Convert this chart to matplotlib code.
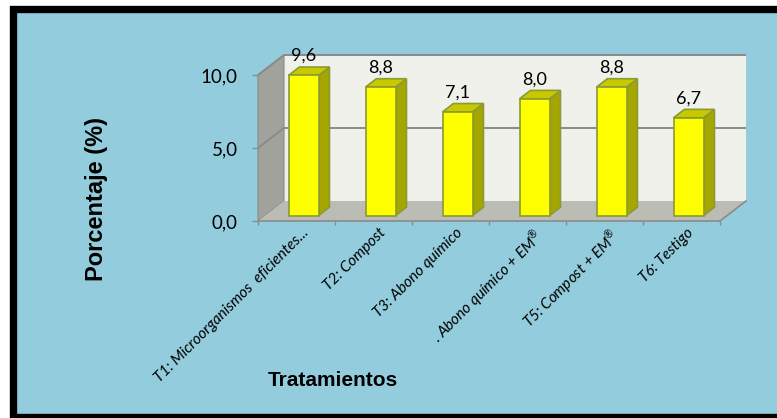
import matplotlib
matplotlib.use("Agg")
import matplotlib.pyplot as plt
from matplotlib.patches import Polygon, Rectangle
from matplotlib.transforms import ScaledTranslation

# Chart data
tratamientos = ["T1: Microorganismos  eficientes...", "T2: Compost", "T3: Abono químico",
                ". Abono químico + EM$^{®}$", "T5: Compost + EM$^{®}$", "T6: Testigo"]
porcentaje = [9.6, 8.8, 7.1, 8.0, 8.8, 6.7]
yticks = [0, 5, 10]

# Colours
BG = "#93CDDD"
WALL_BACK = "#EFF1EA"
WALL_SIDE = "#A2A29C"
FLOOR = "#BBBCB4"
GRID = "#8A8A8A"
BAR_FRONT = "#FFFF00"
BAR_SIDE = "#A6A600"
BAR_TOP = "#C9C900"
BAR_EDGE = "#8A9A35"

plt.rcParams["mathtext.fontset"] = "custom"
plt.rcParams["mathtext.rm"] = "Lato"
plt.rcParams["mathtext.it"] = "Lato:italic"

W, H = 777, 418
fig = plt.figure(figsize=(W / 100, H / 100), dpi=100, facecolor="white")

# blue panel with the thick black frame
fig.add_artist(Rectangle((12.5 / W, (H - 416.5) / H), (800 - 12.5) / W, (416.5 - 9) / H,
                         transform=fig.transFigure, facecolor=BG, edgecolor="black",
                         linewidth=5.3, zorder=0))

# front plane of the 3d box: x 258..720 px, y 221..75 px
ax = fig.add_axes([258 / W, (H - 221) / H, 462 / W, 146 / H])
ax.set_xlim(0, len(porcentaje))
ax.set_ylim(0, 10)
ax.patch.set_visible(False)
for s in ax.spines.values():
    s.set_visible(False)

DX = 26 / 77      # depth shift in category units
DY = 20 / 14.6    # depth shift in value units
n = len(porcentaje)
top = yticks[-1]


def poly(pts, fc, ec="none", lw=0.0, z=1):
    ax.add_patch(Polygon(pts, closed=True, facecolor=fc, edgecolor=ec, linewidth=lw,
                         zorder=z, clip_on=False))


# walls and floor
poly([(DX, DY), (n + DX, DY), (n + DX, top + DY), (DX, top + DY)], WALL_BACK, z=1)
poly([(0, 0), (0, top), (DX, top + DY), (DX, DY)], WALL_SIDE, ec=GRID, lw=0.8, z=1)
poly([(0, 0), (n, 0), (n + DX, DY), (DX, DY)], FLOOR, z=1)

# gridlines on the walls
for v in yticks[1:]:
    ax.plot([0, DX, n + DX], [v, v + DY, v + DY], color=GRID, lw=1.4, zorder=2,
            clip_on=False, solid_capstyle="butt")
ax.plot([0, n, n + DX], [0, 0, DY], color=GRID, lw=1.2, zorder=2, clip_on=False)

# bars
d0 = 0.27   # front face depth
dd = 0.42   # bar depth
bw = 0.39
for i, v in enumerate(porcentaje):
    x0 = i + 0.5 - bw / 2 + d0 * DX
    x1 = x0 + bw
    y0 = d0 * DY
    y1 = v + d0 * DY
    sx, sy = dd * DX, dd * DY
    poly([(x1, y0), (x1 + sx, y0 + sy), (x1 + sx, y1 + sy), (x1, y1)], BAR_SIDE,
         ec=BAR_EDGE, lw=1.2, z=3)
    poly([(x0, y1), (x1, y1), (x1 + sx, y1 + sy), (x0 + sx, y1 + sy)], BAR_TOP,
         ec=BAR_EDGE, lw=1.2, z=3)
    poly([(x0, y0), (x1, y0), (x1, y1), (x0, y1)], BAR_FRONT, ec=BAR_EDGE, lw=1.2, z=4)
    off = ScaledTranslation(0, 6 / 100, fig.dpi_scale_trans)
    ax.text((x0 + x1) / 2, y1 + sy, f"{v:.1f}".replace(".", ","), ha="center",
            va="baseline", fontsize=13, family="Lato", transform=ax.transData + off,
            zorder=5)

# axes ticks
ax.set_yticks(yticks)
ax.set_yticklabels([f"{t:.1f}".replace(".", ",") for t in yticks], fontsize=13.5,
                   family="Lato")
ax.tick_params(axis="y", length=4.5, width=1.0, color=GRID, pad=10)
ax.set_xticks(range(n + 1))
ax.set_xticklabels([])
ax.tick_params(axis="x", length=3, width=1.0, color=GRID)

off = ScaledTranslation(5 / 100, -5 / 100, fig.dpi_scale_trans)
for i, lab in enumerate(tratamientos):
    ax.text(i + 0.5, 0, lab, rotation=45, rotation_mode="anchor", ha="right", va="top",
            fontsize=11, style="italic", family="Lato", transform=ax.transData + off)

fig.text(97 / W, (H - 199) / H, "Porcentaje (%)", rotation=90, ha="center", va="center",
         fontsize=17, fontweight="bold", family="Liberation Sans")
fig.text(333 / W, (H - 381) / H, "Tratamientos", ha="center", va="center",
         fontsize=15, fontweight="bold", family="Liberation Sans")

plt.savefig("out.png", dpi=100, facecolor="white")
